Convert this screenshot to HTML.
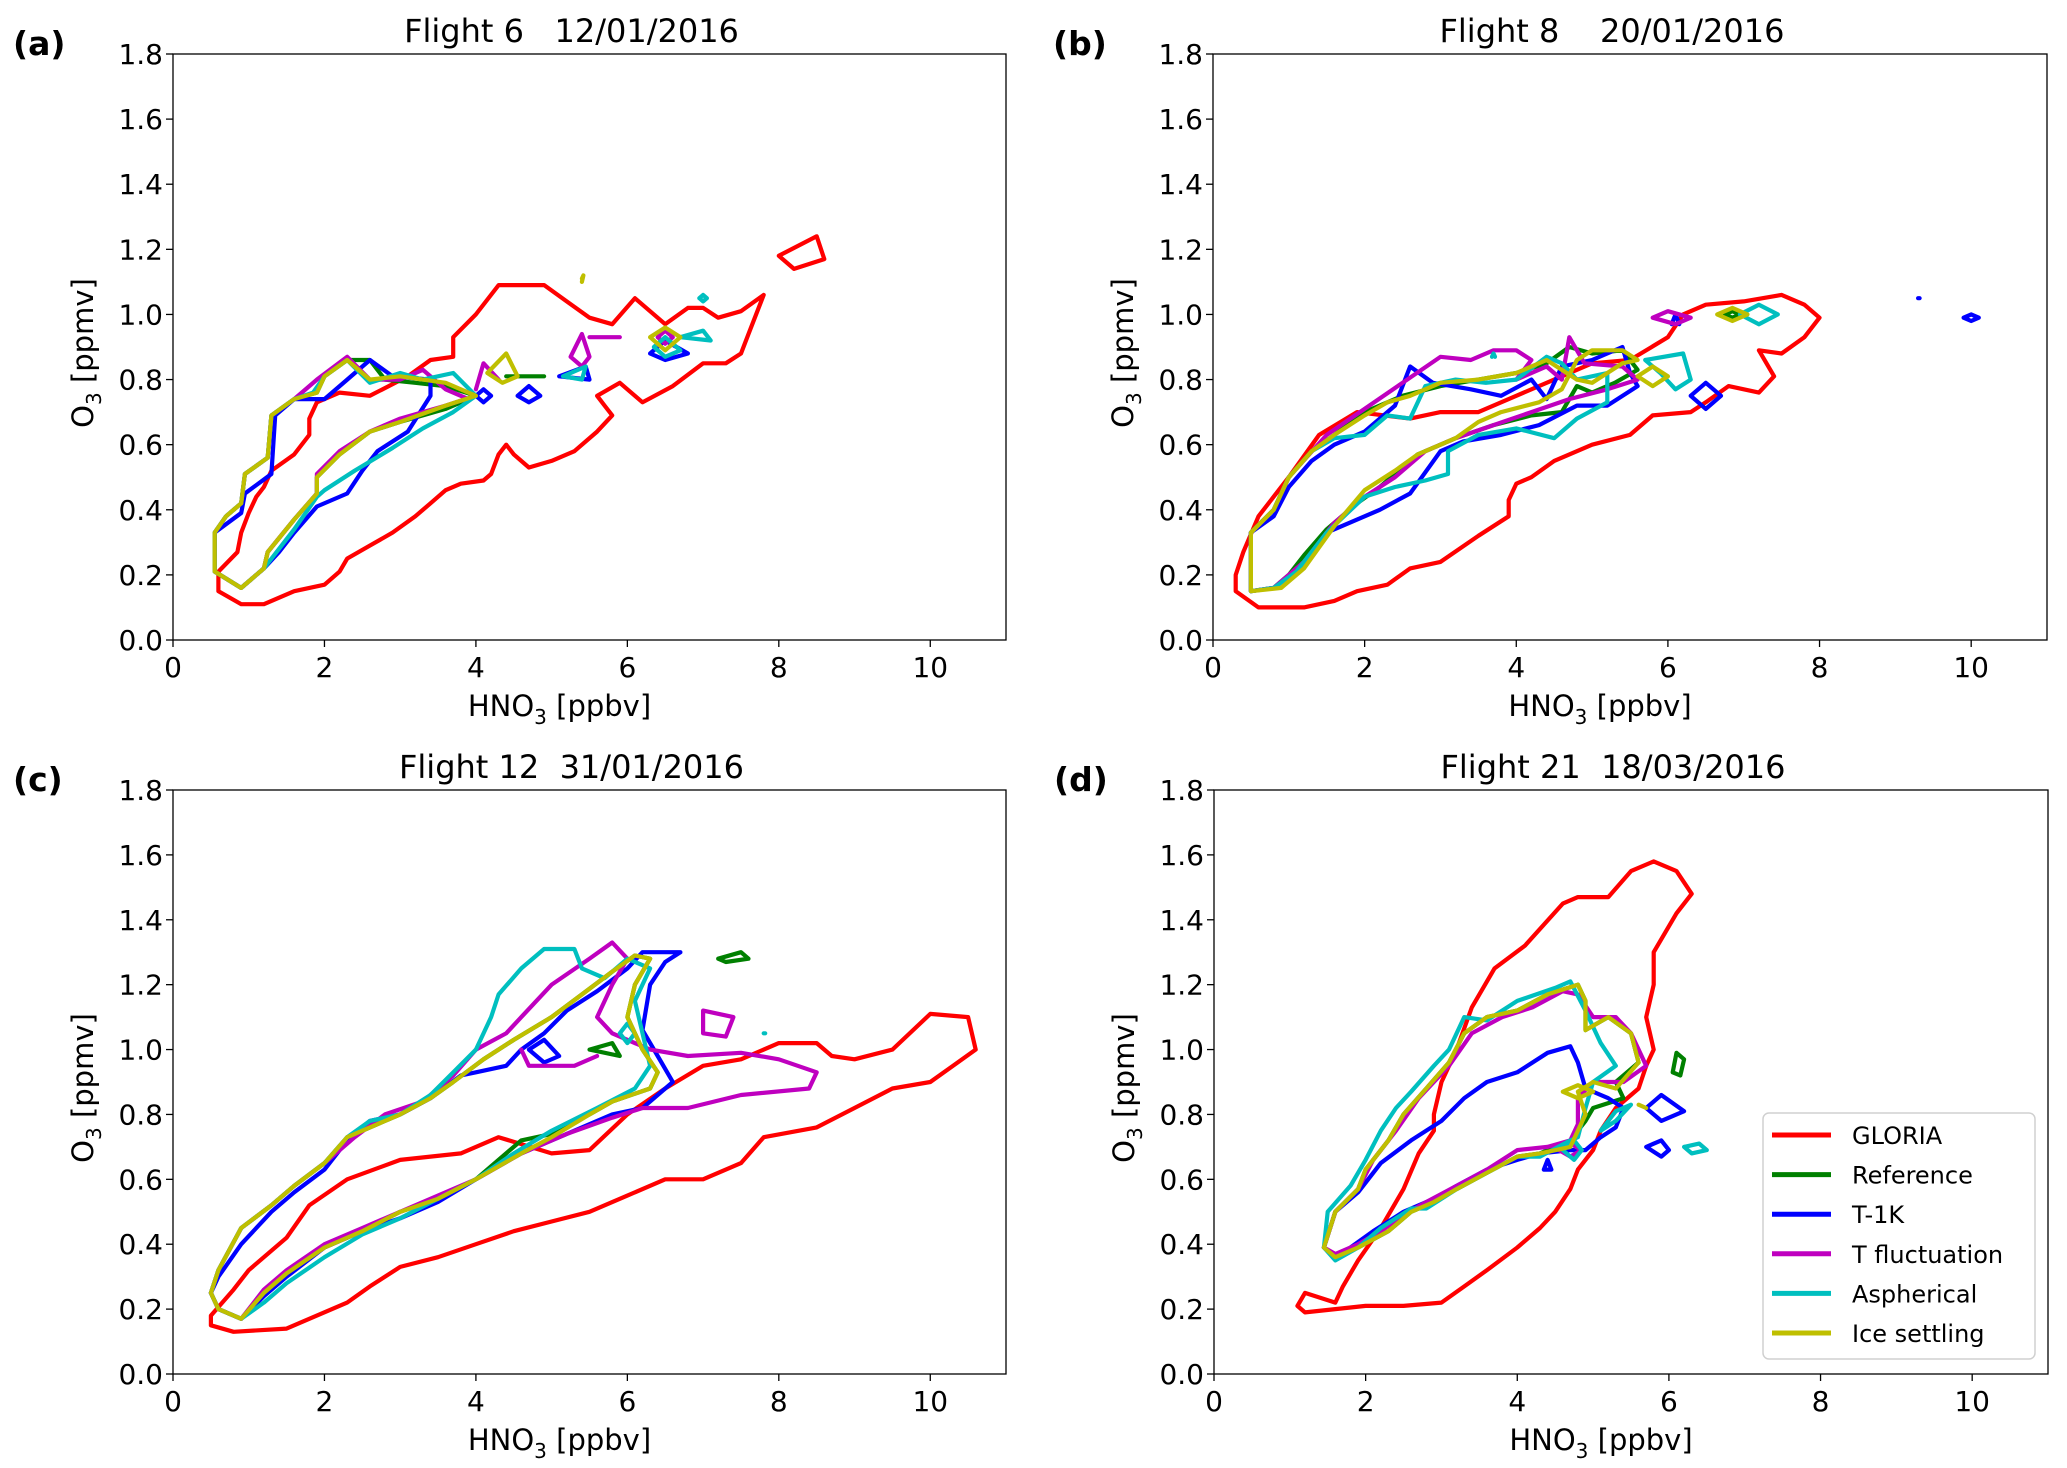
<!DOCTYPE html>
<html><head><meta charset="utf-8">
<style>
html,body{margin:0;padding:0;background:#fff;}
svg{display:block;font-family:"DejaVu Sans","Liberation Sans",sans-serif;}
</style></head>
<body>
<svg id="fig" width="2067" height="1468" viewBox="0 0 2067 1468" xmlns="http://www.w3.org/2000/svg"></svg>
<script>
// ---- tick data ----
const xTicks = [0,2,4,6,8,10];
const yTicks = [0.0,0.2,0.4,0.6,0.8,1.0,1.2,1.4,1.6,1.8];
const seriesNames = ["GLORIA","Reference","T-1K","T fluctuation","Aspherical","Ice settling"];
const seriesColors = ["#ff0000","#008000","#0000ff","#bf00bf","#00bfbf","#bfbf00"];
const panelTitles = ["Flight 6   12/01/2016","Flight 8    20/01/2016","Flight 12  31/01/2016","Flight 21  18/03/2016"];
const panelLetters = ["(a)","(b)","(c)","(d)"];

// ---- panel (a) ----
const aGloria = [[[0.6,0.15],[0.9,0.11],[1.2,0.11],[1.6,0.15],[2.0,0.17],[2.2,0.21],[2.3,0.25],[2.6,0.29],[2.9,0.33],[3.2,0.38],[3.4,0.42],[3.6,0.46],[3.8,0.48],[4.1,0.49],[4.2,0.51],[4.3,0.57],[4.4,0.6],[4.5,0.57],[4.7,0.53],[5.0,0.55],[5.3,0.58],[5.6,0.64],[5.8,0.69],[5.7,0.72],[5.6,0.75],[5.9,0.79],[6.2,0.73],[6.6,0.78],[7.0,0.85],[7.3,0.85],[7.5,0.88],[7.6,0.94],[7.8,1.06],[7.5,1.01],[7.2,0.99],[7.0,1.02],[6.8,1.02],[6.5,0.97],[6.1,1.05],[5.8,0.97],[5.5,0.99],[5.2,1.04],[4.9,1.09],[4.7,1.09],[4.3,1.09],[4.0,1.0],[3.7,0.93],[3.7,0.87],[3.4,0.86],[3.1,0.81],[2.6,0.75],[2.2,0.76],[1.9,0.73],[1.8,0.68],[1.8,0.63],[1.6,0.57],[1.3,0.52],[1.2,0.47],[1.1,0.44],[1.0,0.39],[0.9,0.33],[0.85,0.27],[0.6,0.21],[0.6,0.15]],[[8.0,1.18],[8.5,1.24],[8.6,1.17],[8.2,1.14],[8.0,1.18]]];
const aRef = [[[0.55,0.33],[0.7,0.38],[0.9,0.42],[0.95,0.51],[1.25,0.56],[1.3,0.69],[1.6,0.74],[1.9,0.76],[2.0,0.81],[2.3,0.86],[2.6,0.86],[2.8,0.8],[3.2,0.79],[3.6,0.78],[4.0,0.75],[3.6,0.71],[3.0,0.67],[2.6,0.64],[2.2,0.57],[1.9,0.5],[1.9,0.45],[1.6,0.37],[1.25,0.27],[1.2,0.22],[0.9,0.16],[0.55,0.21],[0.55,0.33]],[[4.4,0.81],[4.9,0.81]]];
const aT1K = [[[0.55,0.33],[0.9,0.39],[0.95,0.45],[1.3,0.51],[1.35,0.69],[1.6,0.74],[2.0,0.74],[2.3,0.8],[2.6,0.86],[2.9,0.81],[3.4,0.8],[3.4,0.75],[3.1,0.64],[2.7,0.58],[2.5,0.52],[2.3,0.45],[1.9,0.41],[1.6,0.33],[1.4,0.27],[1.2,0.22],[0.9,0.16],[0.55,0.21],[0.55,0.33]],[[4.0,0.75],[4.1,0.77],[4.2,0.75],[4.1,0.73],[4.0,0.75]],[[4.55,0.75],[4.7,0.78],[4.85,0.75],[4.7,0.73],[4.55,0.75]],[[5.1,0.81],[5.45,0.84],[5.5,0.8],[5.1,0.81]],[[6.3,0.88],[6.5,0.92],[6.8,0.88],[6.5,0.86],[6.3,0.88]]];
const aTfl = [[[0.55,0.33],[0.7,0.38],[0.9,0.42],[0.95,0.51],[1.25,0.56],[1.3,0.69],[1.6,0.74],[1.9,0.8],[2.3,0.87],[2.6,0.8],[3.0,0.8],[3.3,0.83],[3.6,0.77],[3.9,0.74],[4.0,0.75],[3.6,0.72],[3.0,0.68],[2.6,0.64],[2.2,0.58],[1.9,0.51],[1.9,0.45],[1.6,0.37],[1.25,0.27],[1.2,0.22],[0.9,0.16],[0.55,0.21],[0.55,0.33]],[[4.0,0.77],[4.1,0.85],[4.3,0.8]],[[5.25,0.87],[5.4,0.94],[5.5,0.87],[5.4,0.84],[5.25,0.87]],[[5.5,0.93],[5.9,0.93]],[[6.4,0.93],[6.5,0.95],[6.6,0.93],[6.5,0.91],[6.4,0.93]]];
const aAsp = [[[0.55,0.33],[0.7,0.38],[0.9,0.42],[0.95,0.51],[1.25,0.56],[1.3,0.69],[1.6,0.74],[1.85,0.76],[2.0,0.81],[2.3,0.86],[2.6,0.79],[3.0,0.82],[3.3,0.8],[3.7,0.82],[4.0,0.75],[3.7,0.7],[3.3,0.65],[2.9,0.59],[2.4,0.52],[2.0,0.46],[1.9,0.44],[1.6,0.34],[1.2,0.22],[0.9,0.16],[0.55,0.21],[0.55,0.33]],[[5.15,0.81],[5.45,0.84],[5.4,0.8],[5.15,0.81]],[[6.35,0.9],[6.5,0.93],[6.7,0.89],[6.5,0.87],[6.35,0.9]],[[6.7,0.93],[7.0,0.95],[7.1,0.92],[6.7,0.93]],[[6.95,1.05],[7.0,1.06],[7.05,1.05],[7.0,1.04],[6.95,1.05]]];
const aIce = [[[0.55,0.33],[0.7,0.38],[0.9,0.42],[0.95,0.51],[1.25,0.56],[1.3,0.69],[1.6,0.74],[1.9,0.76],[2.0,0.81],[2.3,0.86],[2.6,0.8],[3.0,0.81],[3.6,0.79],[4.0,0.75],[3.6,0.72],[3.0,0.67],[2.6,0.64],[2.2,0.57],[1.9,0.5],[1.9,0.45],[1.6,0.37],[1.25,0.27],[1.2,0.22],[0.9,0.16],[0.55,0.21],[0.55,0.33]],[[4.15,0.82],[4.4,0.88],[4.55,0.81],[4.35,0.79],[4.15,0.82]],[[6.3,0.93],[6.5,0.96],[6.7,0.93],[6.5,0.89],[6.3,0.93]],[[5.4,1.1],[5.42,1.12],[5.4,1.11]]];

// ---- panel (b) ----
const bGloria = [[[0.3,0.15],[0.6,0.1],[1.2,0.1],[1.6,0.12],[1.9,0.15],[2.3,0.17],[2.6,0.22],[3.0,0.24],[3.5,0.32],[3.9,0.38],[3.9,0.43],[4.0,0.48],[4.2,0.5],[4.5,0.55],[5.0,0.6],[5.5,0.63],[5.8,0.69],[6.3,0.7],[6.5,0.73],[6.8,0.78],[7.2,0.76],[7.4,0.81],[7.2,0.89],[7.5,0.88],[7.8,0.93],[8.0,0.99],[7.8,1.03],[7.5,1.06],[7.0,1.04],[6.5,1.03],[6.2,1.0],[6.0,0.93],[5.5,0.86],[5.0,0.85],[4.5,0.8],[4.0,0.75],[3.5,0.7],[3.0,0.7],[2.6,0.68],[1.9,0.7],[1.4,0.63],[1.0,0.5],[0.6,0.38],[0.4,0.27],[0.3,0.2],[0.3,0.15]]];
const bRef = [[[0.5,0.33],[0.8,0.4],[1.0,0.5],[1.3,0.58],[1.6,0.63],[2.0,0.7],[2.5,0.75],[3.0,0.78],[3.5,0.8],[4.0,0.82],[4.4,0.85],[4.7,0.9],[5.0,0.88],[5.4,0.89],[5.6,0.83],[5.3,0.79],[5.0,0.76],[4.8,0.78],[4.6,0.7],[4.2,0.69],[3.7,0.66],[3.2,0.62],[2.7,0.57],[2.2,0.47],[1.9,0.42],[1.5,0.34],[1.2,0.26],[1.0,0.2],[0.8,0.16],[0.5,0.15],[0.5,0.33]],[[6.75,1.0],[6.85,1.01],[6.95,1.0],[6.85,0.99],[6.75,1.0]]];
const bT1K = [[[0.5,0.33],[0.8,0.38],[1.0,0.47],[1.3,0.55],[1.6,0.6],[2.0,0.64],[2.4,0.72],[2.6,0.84],[2.9,0.79],[3.4,0.77],[3.8,0.75],[4.2,0.8],[4.4,0.74],[4.6,0.84],[5.0,0.86],[5.4,0.9],[5.5,0.82],[5.6,0.78],[5.2,0.72],[4.8,0.72],[4.3,0.66],[3.8,0.63],[3.3,0.61],[3.0,0.58],[2.6,0.45],[2.2,0.4],[1.8,0.36],[1.5,0.33],[1.2,0.23],[0.8,0.16],[0.5,0.15],[0.5,0.33]],[[6.3,0.75],[6.5,0.79],[6.7,0.75],[6.5,0.71],[6.3,0.75]],[[9.9,0.99],[10.0,1.0],[10.1,0.99],[10.0,0.98],[9.9,0.99]],[[9.3,1.05],[9.32,1.05]],[[6.05,0.97],[6.1,1.0],[6.15,0.97]]];
const bTfl = [[[0.5,0.33],[0.8,0.4],[1.0,0.5],[1.5,0.63],[2.0,0.71],[2.5,0.79],[3.0,0.87],[3.4,0.86],[3.7,0.89],[4.0,0.89],[4.2,0.86],[4.0,0.8],[4.4,0.84],[4.6,0.8],[4.7,0.93],[4.9,0.85],[5.4,0.84],[5.6,0.8],[5.2,0.77],[4.7,0.74],[4.2,0.7],[3.7,0.66],[3.2,0.62],[2.8,0.58],[2.4,0.5],[2.0,0.44],[1.6,0.36],[1.2,0.24],[0.8,0.16],[0.5,0.15],[0.5,0.33]],[[5.8,0.99],[6.0,1.01],[6.3,0.99],[6.1,0.97],[5.8,0.99]]];
const bAsp = [[[0.5,0.33],[0.8,0.4],[1.0,0.5],[1.3,0.58],[1.6,0.62],[2.0,0.63],[2.3,0.69],[2.6,0.68],[2.8,0.78],[3.2,0.8],[3.6,0.79],[4.0,0.8],[4.4,0.87],[4.6,0.85],[4.8,0.8],[5.2,0.82],[5.2,0.73],[4.8,0.68],[4.5,0.62],[4.0,0.65],[3.5,0.63],[3.1,0.58],[3.1,0.51],[2.8,0.49],[2.4,0.47],[2.0,0.44],[1.5,0.33],[1.1,0.21],[0.8,0.16],[0.5,0.15],[0.5,0.33]],[[5.7,0.86],[6.2,0.88],[6.3,0.8],[6.1,0.77],[5.9,0.82],[5.7,0.86]],[[6.95,1.0],[7.2,1.03],[7.45,1.0],[7.2,0.97],[6.95,1.0]],[[3.68,0.87],[3.7,0.88],[3.72,0.87]]];
const bIce = [[[0.5,0.33],[0.8,0.4],[1.0,0.5],[1.3,0.58],[1.6,0.63],[2.0,0.69],[2.3,0.73],[2.6,0.75],[3.0,0.79],[3.5,0.8],[4.0,0.82],[4.4,0.86],[4.6,0.83],[4.8,0.8],[5.0,0.79],[5.4,0.85],[5.6,0.86],[5.4,0.89],[5.0,0.89],[4.8,0.86],[4.6,0.77],[4.3,0.73],[3.8,0.7],[3.5,0.67],[3.2,0.62],[2.7,0.57],[2.4,0.52],[2.0,0.46],[1.6,0.35],[1.2,0.22],[0.9,0.16],[0.5,0.15],[0.5,0.33]],[[5.6,0.81],[5.8,0.84],[6.0,0.81],[5.8,0.78],[5.6,0.81]],[[6.65,1.0],[6.85,1.02],[7.05,1.0],[6.85,0.98],[6.65,1.0]]];

// ---- panel (c) ----
const cGloria = [[[0.5,0.15],[0.8,0.13],[1.5,0.14],[1.8,0.17],[2.3,0.22],[2.6,0.27],[3.0,0.33],[3.5,0.36],[4.0,0.4],[4.5,0.44],[5.0,0.47],[5.5,0.5],[6.0,0.55],[6.5,0.6],[7.0,0.6],[7.5,0.65],[7.8,0.73],[8.5,0.76],[9.0,0.82],[9.5,0.88],[10.0,0.9],[10.3,0.95],[10.6,1.0],[10.5,1.1],[10.0,1.11],[9.5,1.0],[9.0,0.97],[8.7,0.98],[8.5,1.02],[8.0,1.02],[7.5,0.97],[7.0,0.95],[6.5,0.88],[6.0,0.8],[5.5,0.69],[5.0,0.68],[4.3,0.73],[3.8,0.68],[3.0,0.66],[2.3,0.6],[1.8,0.52],[1.5,0.42],[1.0,0.32],[0.8,0.26],[0.5,0.18],[0.5,0.15]]];
const cRef = [[[0.5,0.25],[0.6,0.32],[0.9,0.45],[1.3,0.52],[1.6,0.58],[2.0,0.65],[2.3,0.73],[2.6,0.76],[3.0,0.8],[3.4,0.85],[3.7,0.9],[4.1,0.97],[4.5,1.03],[5.0,1.1],[5.4,1.17],[5.8,1.24],[6.1,1.29],[6.3,1.28],[6.1,1.2],[6.0,1.1],[6.2,1.0],[6.4,0.93],[6.3,0.88],[5.8,0.84],[5.5,0.8],[5.0,0.74],[4.6,0.72],[4.0,0.6],[3.5,0.54],[3.0,0.5],[2.5,0.44],[2.0,0.39],[1.5,0.31],[1.2,0.25],[0.9,0.17],[0.6,0.2],[0.5,0.25]],[[7.2,1.28],[7.5,1.3],[7.6,1.28],[7.3,1.27],[7.2,1.28]],[[5.5,1.0],[5.8,1.02],[5.9,0.98],[5.5,1.0]]];
const cT1K = [[[0.5,0.25],[0.6,0.3],[0.9,0.4],[1.3,0.5],[1.6,0.56],[2.0,0.63],[2.3,0.72],[2.6,0.78],[3.0,0.8],[3.4,0.85],[3.8,0.92],[4.0,0.93],[4.4,0.95],[4.6,1.0],[4.9,1.05],[5.2,1.12],[5.6,1.18],[6.0,1.25],[6.2,1.3],[6.7,1.3],[6.5,1.27],[6.3,1.2],[6.2,1.06],[6.4,0.98],[6.6,0.9],[6.2,0.82],[5.8,0.8],[5.2,0.74],[4.6,0.68],[4.0,0.6],[3.5,0.53],[3.0,0.48],[2.5,0.44],[2.0,0.39],[1.5,0.3],[1.2,0.24],[0.9,0.17],[0.6,0.2],[0.5,0.25]],[[4.7,1.0],[4.9,1.03],[5.1,0.98],[4.9,0.96],[4.7,1.0]]];
const cTfl = [[[0.5,0.25],[0.6,0.32],[0.9,0.45],[1.3,0.52],[1.6,0.58],[2.0,0.65],[2.4,0.73],[2.8,0.8],[3.3,0.84],[3.7,0.92],[4.0,1.0],[4.4,1.05],[4.6,1.1],[5.0,1.2],[5.5,1.28],[5.8,1.33],[6.0,1.28],[5.8,1.2],[5.6,1.1],[5.8,1.05],[6.3,1.0],[6.8,0.98],[7.5,0.99],[8.0,0.97],[8.5,0.93],[8.4,0.88],[7.5,0.86],[6.8,0.82],[6.2,0.82],[5.8,0.79],[5.2,0.74],[4.6,0.68],[4.0,0.6],[3.5,0.55],[3.0,0.5],[2.5,0.45],[2.0,0.4],[1.5,0.32],[1.2,0.26],[0.9,0.17],[0.6,0.2],[0.5,0.25]],[[7.0,1.05],[7.0,1.12],[7.4,1.1],[7.3,1.04],[7.0,1.05]],[[4.6,1.0],[4.7,0.95],[5.3,0.95],[5.6,0.98]]];
const cAsp = [[[0.5,0.25],[0.6,0.32],[0.9,0.45],[1.3,0.52],[1.6,0.58],[2.0,0.65],[2.3,0.73],[2.6,0.78],[3.0,0.8],[3.4,0.86],[3.7,0.93],[4.0,1.0],[4.2,1.1],[4.3,1.17],[4.6,1.25],[4.9,1.31],[5.3,1.31],[5.4,1.25],[5.7,1.22],[6.0,1.28],[6.3,1.25],[6.1,1.15],[6.2,1.05],[6.3,0.95],[6.1,0.88],[5.6,0.82],[5.0,0.75],[4.5,0.68],[4.0,0.6],[3.5,0.54],[3.0,0.48],[2.5,0.43],[2.0,0.36],[1.5,0.28],[1.2,0.22],[0.9,0.17],[0.6,0.2],[0.5,0.25]],[[5.9,1.05],[6.0,1.08],[6.1,1.05],[6.0,1.02],[5.9,1.05]],[[7.8,1.05],[7.82,1.05]]];
const cIce = [[[0.5,0.25],[0.6,0.32],[0.9,0.45],[1.3,0.52],[1.6,0.58],[2.0,0.65],[2.3,0.73],[2.6,0.76],[3.0,0.8],[3.4,0.85],[3.7,0.9],[4.1,0.97],[4.5,1.03],[5.0,1.1],[5.4,1.17],[5.8,1.24],[6.1,1.29],[6.3,1.28],[6.1,1.2],[6.0,1.1],[6.2,1.0],[6.4,0.93],[6.3,0.88],[5.8,0.84],[5.5,0.8],[5.0,0.73],[4.6,0.68],[4.0,0.6],[3.5,0.54],[3.0,0.5],[2.5,0.44],[2.0,0.39],[1.5,0.31],[1.2,0.25],[0.9,0.17],[0.6,0.2],[0.5,0.25]]];

// ---- panel (d) ----
const dGloria = [[[1.1,0.21],[1.2,0.19],[1.6,0.2],[2.0,0.21],[2.5,0.21],[3.0,0.22],[3.3,0.27],[3.6,0.32],[4.0,0.39],[4.3,0.45],[4.5,0.5],[4.7,0.57],[4.8,0.63],[5.0,0.69],[5.1,0.75],[5.3,0.82],[5.6,0.88],[5.7,0.95],[5.8,1.0],[5.7,1.1],[5.8,1.2],[5.8,1.3],[6.1,1.42],[6.3,1.48],[6.1,1.55],[5.8,1.58],[5.5,1.55],[5.2,1.47],[4.8,1.47],[4.6,1.45],[4.1,1.32],[3.7,1.25],[3.4,1.13],[3.2,1.0],[3.0,0.9],[2.9,0.8],[2.9,0.75],[2.7,0.68],[2.5,0.57],[2.2,0.45],[1.9,0.35],[1.7,0.27],[1.6,0.22],[1.2,0.25],[1.1,0.21]]];
const dRef = [[[1.45,0.39],[1.6,0.5],[1.9,0.57],[2.0,0.63],[2.3,0.72],[2.5,0.8],[2.8,0.88],[3.1,0.96],[3.3,1.05],[3.6,1.1],[4.0,1.12],[4.4,1.17],[4.8,1.2],[4.9,1.15],[4.9,1.06],[5.2,1.1],[5.5,1.05],[5.6,0.96],[5.3,0.9],[5.4,0.85],[5.0,0.82],[4.9,0.78],[4.7,0.72],[4.3,0.68],[4.0,0.67],[3.6,0.62],[3.2,0.57],[2.9,0.53],[2.6,0.5],[2.3,0.44],[1.9,0.39],[1.6,0.36],[1.45,0.39]],[[6.05,0.93],[6.1,0.99],[6.2,0.97],[6.15,0.92],[6.05,0.93]]];
const dT1K = [[[1.45,0.39],[1.6,0.5],[1.9,0.56],[2.2,0.65],[2.6,0.72],[3.0,0.78],[3.3,0.85],[3.6,0.9],[4.0,0.93],[4.4,0.99],[4.7,1.01],[4.8,0.96],[4.9,0.88],[5.2,0.85],[5.4,0.82],[5.3,0.76],[5.1,0.73],[4.9,0.69],[4.7,0.69],[4.3,0.68],[4.0,0.66],[3.6,0.63],[3.2,0.58],[2.9,0.54],[2.5,0.5],[2.1,0.44],[1.8,0.39],[1.6,0.36],[1.45,0.39]],[[5.7,0.82],[5.9,0.86],[6.2,0.81],[5.9,0.78],[5.7,0.82]],[[5.7,0.7],[5.9,0.72],[6.0,0.69],[5.9,0.67],[5.7,0.7]],[[4.35,0.63],[4.4,0.66],[4.45,0.63],[4.35,0.63]]];
const dTfl = [[[1.45,0.39],[1.6,0.5],[1.9,0.57],[2.1,0.66],[2.4,0.75],[2.7,0.85],[3.1,0.95],[3.4,1.05],[3.8,1.1],[4.2,1.13],[4.6,1.18],[4.8,1.17],[5.0,1.1],[5.3,1.1],[5.5,1.05],[5.7,0.95],[5.4,0.9],[5.0,0.9],[4.8,0.85],[4.8,0.77],[4.7,0.72],[4.4,0.7],[4.0,0.69],[3.6,0.63],[3.2,0.58],[2.8,0.53],[2.5,0.49],[2.2,0.44],[1.9,0.4],[1.6,0.37],[1.45,0.39]],[[4.55,0.69],[4.7,0.71],[4.85,0.69],[4.7,0.67],[4.55,0.69]]];
const dAsp = [[[1.45,0.39],[1.5,0.5],[1.8,0.58],[2.0,0.66],[2.2,0.75],[2.4,0.82],[2.6,0.87],[2.9,0.95],[3.1,1.0],[3.3,1.1],[3.6,1.09],[4.0,1.15],[4.5,1.19],[4.7,1.21],[4.9,1.12],[5.1,1.02],[5.3,0.95],[5.0,0.9],[4.9,0.82],[4.8,0.73],[4.7,0.72],[4.3,0.67],[4.0,0.67],[3.6,0.62],[3.2,0.57],[2.8,0.51],[2.6,0.51],[2.2,0.45],[1.9,0.39],[1.6,0.35],[1.45,0.39]],[[4.6,0.69],[4.75,0.72],[4.85,0.69],[4.75,0.66],[4.6,0.69]],[[6.2,0.7],[6.4,0.71],[6.5,0.69],[6.3,0.68],[6.2,0.7]],[[5.1,0.75],[5.3,0.81],[5.5,0.83],[5.3,0.78],[5.1,0.75]]];
const dIce = [[[1.45,0.39],[1.6,0.5],[1.9,0.57],[2.0,0.63],[2.3,0.72],[2.5,0.8],[2.8,0.88],[3.1,0.96],[3.3,1.05],[3.6,1.1],[4.0,1.12],[4.4,1.17],[4.8,1.2],[4.9,1.15],[4.9,1.06],[5.2,1.1],[5.5,1.05],[5.6,0.96],[5.3,0.88],[5.0,0.9],[4.8,0.87],[4.9,0.8],[4.7,0.7],[4.3,0.68],[4.0,0.67],[3.6,0.62],[3.2,0.57],[2.9,0.53],[2.6,0.5],[2.3,0.44],[1.9,0.39],[1.6,0.36],[1.45,0.39]],[[4.6,0.87],[4.8,0.89],[5.0,0.87],[4.8,0.85],[4.6,0.87]],[[5.6,0.83],[5.7,0.82]]];

const panelSeries = [
  [aGloria,aRef,aT1K,aTfl,aAsp,aIce],
  [bGloria,bRef,bT1K,bTfl,bAsp,bIce],
  [cGloria,cRef,cT1K,cTfl,cAsp,cIce],
  [dGloria,dRef,dT1K,dTfl,dAsp,dIce]
];
const drawOrder = [0,1,2,3,4,5];

const NS = "http://www.w3.org/2000/svg";
const svg = document.getElementById("fig");
function mk(tag, attrs, parent){
  const e = document.createElementNS(NS, tag);
  for (const k in attrs) e.setAttribute(k, attrs[k]);
  (parent||svg).appendChild(e);
  return e;
}
const layout = [
  {left:173, top:54, right:1006, bottom:640},
  {left:1213, top:54, right:2047, bottom:640},
  {left:173, top:790, right:1006, bottom:1374},
  {left:1214, top:790, right:2048, bottom:1374}
];
const xMax = 11, yMax = 1.8;

layout.forEach((L, pi) => {
  const g = mk("g", {});
  
  
  const xs = v => L.left + v / xMax * (L.right - L.left);
  const ys = v => L.bottom - v / yMax * (L.bottom - L.top);

  const sg = mk("g", {fill:"none","stroke-linejoin":"round","stroke-linecap":"round"}, g);
  
  
  drawOrder.forEach(si => {
    panelSeries[pi][si].forEach(line => {
      const p = mk("polyline", {points: line.map(q => xs(q[0]).toFixed(1)+","+ys(q[1]).toFixed(1)).join(" "), stroke: seriesColors[si], "stroke-width": 4.2}, sg);
      
      
    });
  });

  const fr = mk("rect", {x:L.left, y:L.top, width:L.right-L.left, height:L.bottom-L.top, fill:"none", stroke:"#000", "stroke-width":1.3}, g);
  
  

  xTicks.forEach(t => {
    const x = xs(t);
    const tk = mk("line", {x1:x, x2:x, y1:L.bottom, y2:L.bottom+7, stroke:"#000","stroke-width":1.3}, g);
    
    
    const tx = mk("text", {x:x, y:L.bottom+37, "font-size":28, "text-anchor":"middle", fill:"#000"}, g);
    tx.textContent = t;
    
    
  });
  yTicks.forEach(t => {
    const y = ys(t);
    const tk = mk("line", {x1:L.left-7, x2:L.left, y1:y, y2:y, stroke:"#000","stroke-width":1.3}, g);
    
    
    const tx = mk("text", {x:L.left-10, y:y+10, "font-size":28, "text-anchor":"end", fill:"#000"}, g);
    tx.textContent = t.toFixed(1);
    
    
  });

  const xl = mk("text", {x:(L.left+L.right)/2 - 30, y:L.bottom+76, "font-size":29, "text-anchor":"middle", fill:"#000"}, g);
  xl.innerHTML = 'HNO<tspan font-size="20" dy="8">3</tspan><tspan dy="-8"> [ppbv]</tspan>';
  
  

  const cy = (L.top+L.bottom)/2 + 6;
  const cx = L.left - 80;
  const yl = mk("text", {x:cx, y:cy, "font-size":29, "text-anchor":"middle", fill:"#000", transform:"rotate(-90 "+cx+" "+cy+")"}, g);
  yl.innerHTML = 'O<tspan font-size="20" dy="8">3</tspan><tspan dy="-8"> [ppmv]</tspan>';
  
  

  const ti = mk("text", {x:(L.left+L.right)/2 - 18, y:L.top-12, "font-size":32, "text-anchor":"middle", fill:"#000"}, g);
  ti.setAttribute("style","white-space:pre");
  ti.textContent = panelTitles[pi];
  
  

  const lt = mk("text", {x:L.left-160, y:L.top+1, "font-size":33, "font-weight":"bold", fill:"#000"}, g);
  lt.textContent = panelLetters[pi];
  
  
});

const lg = mk("g", {});


mk("rect", {x:1763, y:1113, width:272, height:246, rx:6, fill:"#fff", stroke:"#d0d0d0", "stroke-width":1.5}, lg);
seriesNames.forEach((n, i) => {
  const y = 1135 + i*39.6;
  const ln = mk("line", {x1:1772, x2:1831, y1:y, y2:y, stroke:seriesColors[i], "stroke-width":5}, lg);
  
  
  const t = mk("text", {x:1852, y:y+9, "font-size":24, fill:"#000"}, lg);
  t.textContent = n;
  
  
});
</script>
</body></html>
